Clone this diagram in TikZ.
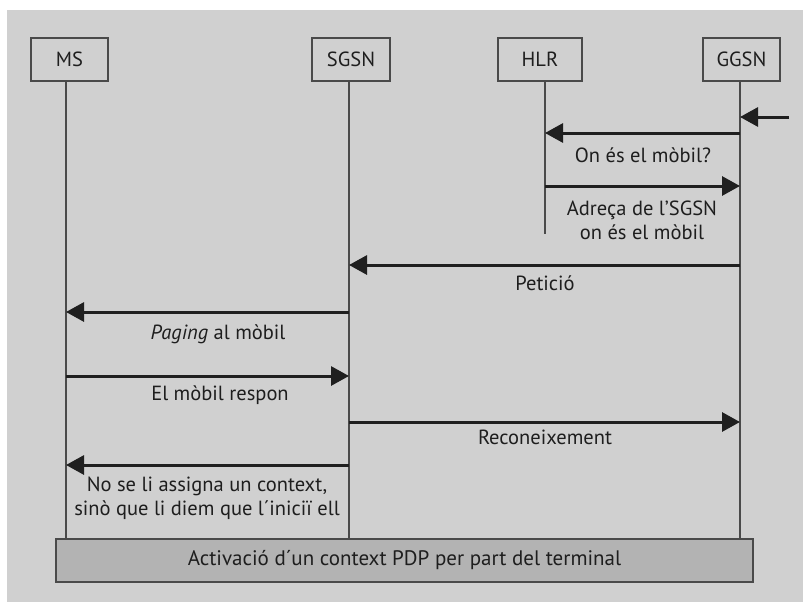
\documentclass[tikz,border=0pt]{standalone}
\usepackage{fontspec}
\setmainfont{PT Sans}
\usetikzlibrary{arrows.meta}
\definecolor{bg}{HTML}{D0D0D0}
\definecolor{ln}{HTML}{4A4A4A}
\definecolor{act}{HTML}{B3B3B3}
\definecolor{tx}{HTML}{1E1E1E}
\begin{document}
\begin{tikzpicture}[x=1pt,y=-1pt,
 ent/.style={draw=ln, line width=1.8pt, minimum height=43pt, font=\fontsize{20.5}{24}\selectfont, text=tx, inner sep=0pt},
 life/.style={draw=ln, line width=1.8pt},
 msg/.style={draw=black!88, line width=3pt, -{Triangle[length=18pt,width=19pt]}},
 lbl/.style={font=\fontsize{20.5}{24}\selectfont, text=tx, align=center}]
\fill[white] (0,0) rectangle (803,602);
\useasboundingbox (0,0) rectangle (803,602);
\fill[bg] (7,10) rectangle (803,602);
% entities
\node[ent, minimum width=77pt] (ms) at (69.5,59.5) {MS};
\node[ent, minimum width=78pt] (sgsn) at (351,59.5) {SGSN};
\node[ent, minimum width=84pt] (hlr) at (540,59.5) {HLR};
\node[ent, minimum width=77pt] (ggsn) at (741.5,59.5) {GGSN};
% activation box
\node[draw=ln, line width=1.8pt, fill=act, minimum width=697pt, minimum height=43pt, inner sep=0pt,
  font=\fontsize{21}{24}\selectfont, text=tx] (actv) at (404.5,560.5) {Activació d´un context PDP per part del terminal};
% lifelines
\coordinate (msL) at (66,81);
\coordinate (sgL) at (349,81);
\coordinate (hlL) at (545,81);
\coordinate (ggL) at (740,81);
\draw[life] (msL) -- (msL |- actv.north);
\draw[life] (sgL) -- (sgL |- actv.north);
\draw[life] (hlL) -- (545,234);
\draw[life] (ggL) -- (ggL |- actv.north);
% incoming
\coordinate (ext) at (789,117);
\draw[msg] (ext) -- (ggL |- ext);
% messages
\draw[msg] (ggL |- 0,133) -- (hlL |- 0,133);
\node[lbl] (l1) at (643,155) {On és el mòbil?};
\draw[msg] (hlL |- 0,186) -- (ggL |- 0,186);
\node[lbl] (l2) at (642,220) {Adreça de l’SGSN\\on és el mòbil};
\draw[msg] (ggL |- 0,265) -- (sgL |- 0,265);
\node[lbl] (l3) at (545,283) {Petició};
\draw[msg] (sgL |- 0,312) -- (msL |- 0,312);
\node[lbl] (l4) at (218,334) {\textit{Paging} al mòbil};
\draw[msg] (msL |- 0,376) -- (sgL |- 0,376);
\node[lbl] (l5) at (220,395) {El mòbil respon};
\draw[msg] (sgL |- 0,422) -- (ggL |- 0,422);
\node[lbl] (l6) at (545,437) {Reconeixement};
\draw[msg] (sgL |- 0,465) -- (msL |- 0,465);
\node[lbl] (l7) at (207,498) {No se li assigna un context,\\sinò que li diem que l´iniciï ell};
\end{tikzpicture}
\end{document}
